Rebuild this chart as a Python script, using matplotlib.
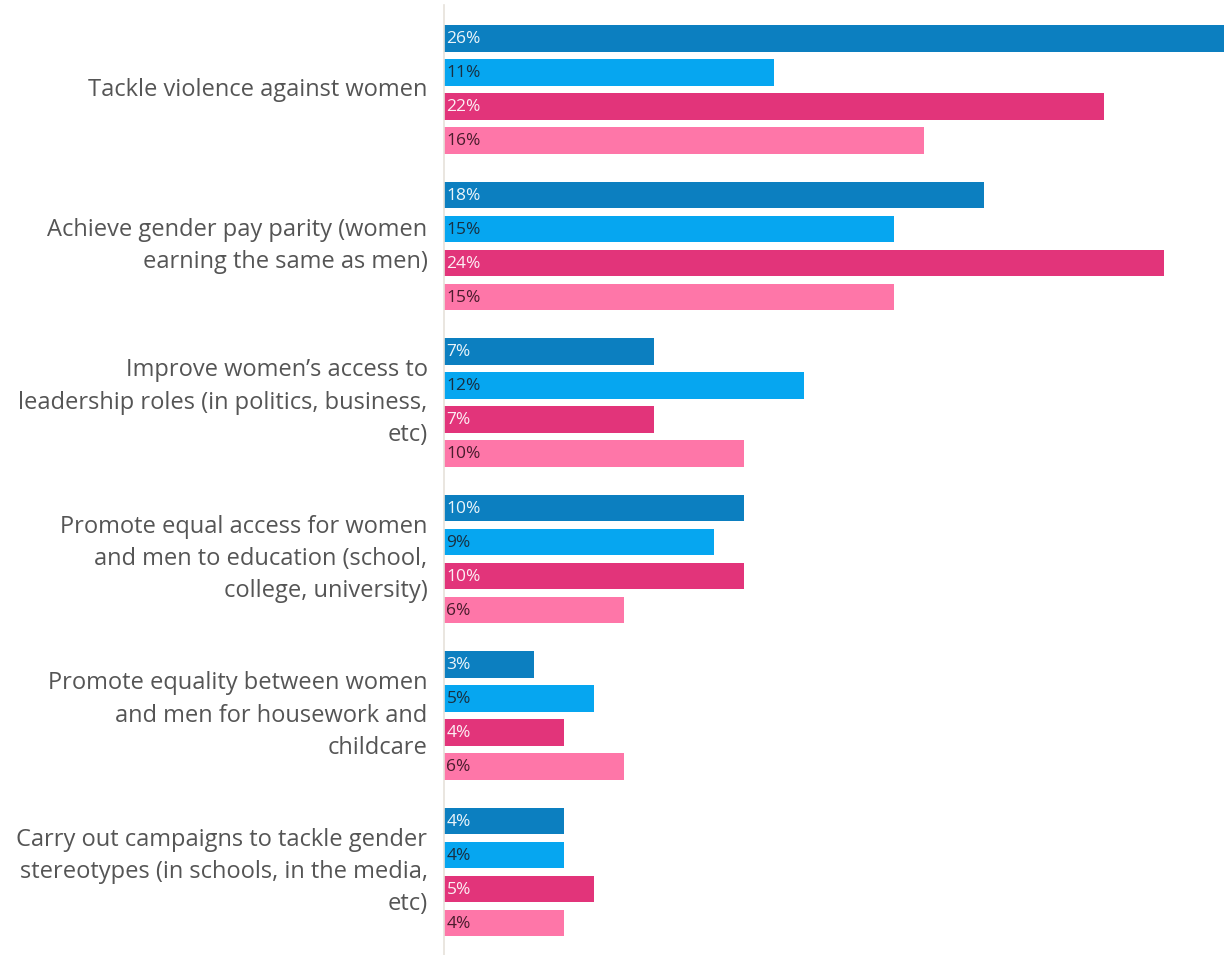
import matplotlib
matplotlib.use("Agg")
import matplotlib.pyplot as plt
import numpy as np

categories = [
    "Tackle violence against women",
    "Achieve gender pay parity (women\nearning the same as men)",
    "Improve women’s access to\nleadership roles (in politics, business,\netc)",
    "Promote equal access for women\nand men to education (school,\ncollege, university)",
    "Promote equality between women\nand men for housework and\nchildcare",
    "Carry out campaigns to tackle gender\nstereotypes (in schools, in the media,\netc)",
]
series_a = [26, 18, 7, 10, 3, 4]
series_b = [11, 15, 12, 9, 5, 4]
series_c = [22, 24, 7, 10, 4, 5]
series_d = [16, 15, 10, 6, 6, 4]
series = [series_a, series_b, series_c, series_d]
colors = ["#0C7FC0", "#06A6F0", "#E2347A", "#FE76A8"]
label_colors = ["#FFFFFF", "#1A2633", "#FFFFFF", "#3A1422"]

plt.rcParams['font.family'] = ['Open Sans', 'DejaVu Sans']

W, H = 1224, 955
fig = plt.figure(figsize=(W / 100, H / 100), dpi=100)
ax = fig.add_axes([444 / W, 0, 1 - 444 / W, 1])

pitch = 34.0
group_pitch = 156.5 / pitch
first = 38.7 / pitch
bar_h = 26.5 / pitch

for gi, cat in enumerate(categories):
    base = first + gi * group_pitch
    for si, vals in enumerate(series):
        y = base + si
        ax.barh(y, vals[gi], height=bar_h, color=colors[si], edgecolor='none')
        ax.text(0.08, y + 0.02, f"{vals[gi]}%", color=label_colors[si], fontsize=12.5,
                va='center', ha='left', alpha=0.92)
    gc = base + 1.5
    ax.text(-0.55, gc, cat, ha='right', va='center', fontsize=17, color='#555555',
            linespacing=1.46, clip_on=False)

ax.set_xlim(0, 26)
ax.set_ylim(H / pitch, 0)
ax.axis('off')
ax.plot([0, 0], [5 / pitch, H / pitch], color='#E6E2DA', lw=1.2, clip_on=False)

fig.savefig("out.png", dpi=100)
